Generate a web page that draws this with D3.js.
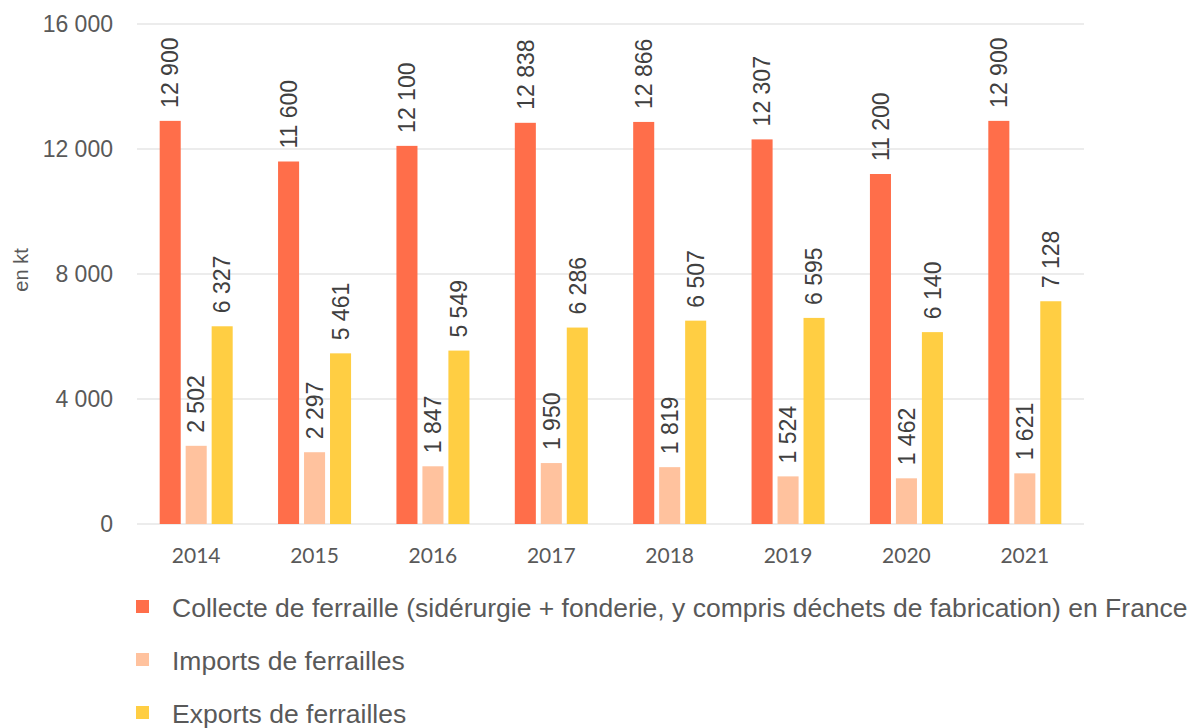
<!DOCTYPE html>
<html><head><meta charset="utf-8">
<script src="https://cdn.jsdelivr.net/npm/d3@7"></script>
<style>body{margin:0;background:#fff}svg{display:block}</style>
</head><body><svg id="c" width="1196" height="728"></svg>
<script>
const years = ["2014","2015","2016","2017","2018","2019","2020","2021"];
const seriesNames = [
  "Collecte de ferraille (sidérurgie + fonderie, y compris déchets de fabrication) en France",
  "Imports de ferrailles",
  "Exports de ferrailles"
];
const collecte = [12900, 11600, 12100, 12838, 12866, 12307, 11200, 12900];
const imports = [2502, 2297, 1847, 1950, 1819, 1524, 1462, 1621];
const exportsV = [6327, 5461, 5549, 6286, 6507, 6595, 6140, 7128];
const yTicks = [0, 4000, 8000, 12000, 16000];
const colors = ["#ff6e4a", "#ffc29e", "#ffce43"];
const yLabel = "en kt";

const series = [collecte, imports, exportsV];
const svg = d3.select("#c");
const L = 137, R = 1084, T = 24, B = 524;
const fmt = v => d3.format(",")(v).replace(/,/g, " ");

const x0 = d3.scaleBand().domain(years).range([L, R]).padding(0);
const x1 = d3.scaleBand().domain([0,1,2]).range([0, x0.bandwidth()]).paddingInner(0.19).paddingOuter(0.873);
const y = d3.scaleLinear().domain([0, 16000]).range([B, T]);

// gridlines
svg.append("g").selectAll("line").data(yTicks).join("line")
  .attr("x1", L).attr("x2", R)
  .attr("y1", d => y(d)).attr("y2", d => y(d))
  .attr("stroke", "#d9d9d9").attr("stroke-width", 1.2);

// y tick labels
svg.append("g").selectAll("text").data(yTicks).join("text")
  .attr("x", 113).attr("y", d => y(d)).attr("dy", "0.36em")
  .attr("text-anchor", "end")
  .attr("font-family", "Liberation Sans, Arial, sans-serif").attr("font-size", 23)
  .attr("fill", "#595959").text(d => fmt(d));

// y label
svg.append("text").attr("transform", `translate(28,270) rotate(-90)`)
  .attr("text-anchor", "middle")
  .attr("font-family", "Liberation Sans, Arial, sans-serif").attr("font-size", 20)
  .attr("fill", "#595959").text(yLabel);

// x tick labels
svg.append("g").selectAll("text").data(years).join("text")
  .attr("x", d => x0(d) + x0.bandwidth()/2).attr("y", 563)
  .attr("text-anchor", "middle")
  .attr("font-family", "Lato, Open Sans, sans-serif").attr("font-size", 21)
  .attr("fill", "#595959").text(d => d);

// bars + labels
series.forEach((vals, si) => {
  const g = svg.append("g");
  g.selectAll("rect").data(vals).join("rect")
    .attr("x", (d, i) => x0(years[i]) + x1(si))
    .attr("width", x1.bandwidth())
    .attr("y", d => y(d)).attr("height", d => y(0) - y(d))
    .attr("fill", colors[si]);
  g.selectAll("text").data(vals).join("text")
    .attr("transform", (d, i) => `translate(${x0(years[i]) + x1(si) + x1.bandwidth()/2},${y(d) - 13}) rotate(-90)`)
    .attr("dy", "0.36em")
    .attr("text-anchor", "start")
    .attr("font-family", "Liberation Sans, Arial, sans-serif").attr("font-size", 23)
    .attr("fill", "#404040").text(d => fmt(d));
});

// legend
const lg = svg.append("g");
seriesNames.forEach((name, i) => {
  const base = 617 + i * 53;
  lg.append("rect").attr("x", 136).attr("y", base - 17).attr("width", 13).attr("height", 13).attr("fill", colors[i]);
  lg.append("text").attr("x", 172).attr("y", base)
    .attr("font-family", "Liberation Sans, Arial, sans-serif").attr("font-size", 26.5)
    .attr("fill", "#595959").text(name);
});
</script></body></html>
